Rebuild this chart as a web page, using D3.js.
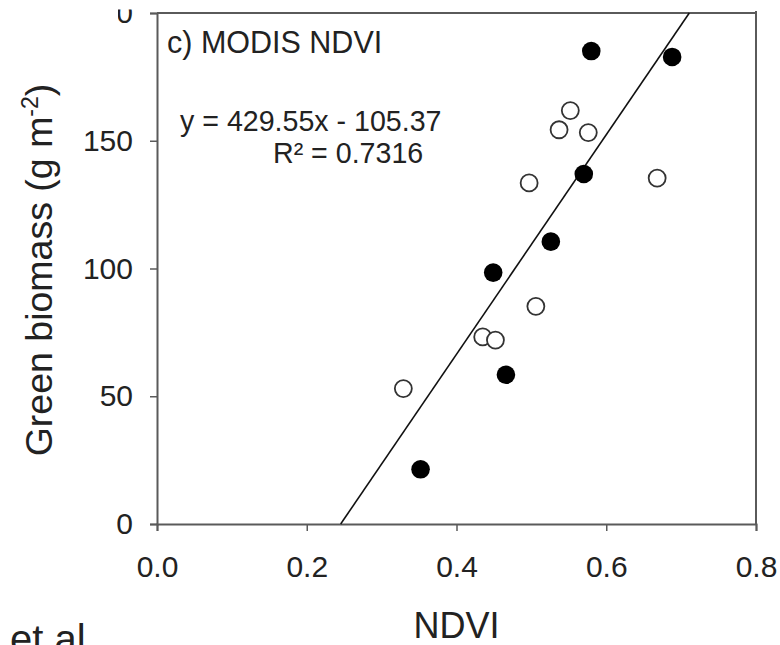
<!DOCTYPE html>
<html>
<head>
<meta charset="utf-8">
<script src="https://cdn.jsdelivr.net/npm/d3@7"></script>
<style>
  html, body { margin: 0; padding: 0; background: #fff; }
  svg { display: block; }
  text { font-family: "Liberation Sans", Arial, sans-serif; fill: #222; }
</style>
</head>
<body>
<svg id="chart" width="780" height="645"></svg>
<script>
// ---- data ----
const filledX = [0.580, 0.688, 0.570, 0.526, 0.449, 0.466, 0.352];
const filledY = [185.1, 182.8, 137.0, 110.5, 98.4, 58.4, 21.4];
const openX = [0.552, 0.537, 0.576, 0.497, 0.668, 0.506, 0.435, 0.452, 0.329];
const openY = [161.8, 154.3, 153.2, 133.5, 135.4, 85.2, 73.2, 72.0, 53.0];
const xTicks = [0.0, 0.2, 0.4, 0.6, 0.8];
const yTicks = [0, 50, 100, 150, 200];
const slope = 429.55, intercept = -105.37;
const panelLabel = "c) MODIS NDVI";
const eqLabel = "y = 429.55x - 105.37";
const r2Label = "R\u00B2 = 0.7316";

const svg = d3.select("#chart");
const x = d3.scaleLinear().domain([0, 0.8]).range([157, 756]);
const y = d3.scaleLinear().domain([0, 200]).range([524, 13]);

const axisColor = "#5a5a5a";

// frame (top and right)
svg.append("line").attr("x1", x(0)).attr("x2", x(0.8)).attr("y1", y(200)).attr("y2", y(200))
  .attr("stroke", axisColor).attr("stroke-width", 2);
svg.append("line").attr("x1", x(0.8)).attr("x2", x(0.8)).attr("y1", y(200) - 2).attr("y2", y(0))
  .attr("stroke", axisColor).attr("stroke-width", 2);

// bottom axis
const gx = svg.append("g").attr("transform", `translate(0,${y(0)})`)
  .call(d3.axisBottom(x).tickValues(xTicks).tickSize(7).tickPadding(25).tickFormat(d3.format(".1f")));
// left axis
const gy = svg.append("g").attr("transform", `translate(${x(0)},0)`)
  .call(d3.axisLeft(y).tickValues(yTicks).tickSize(7).tickPadding(17).tickFormat(d3.format("d")));

[gx, gy].forEach(g => {
  g.select(".domain").attr("stroke", axisColor).attr("stroke-width", 2);
  g.selectAll(".tick line").attr("stroke", axisColor).attr("stroke-width", 1.5);
  g.selectAll(".tick text").attr("font-size", 30).attr("fill", "#222")
    .attr("font-family", "'Liberation Sans', Arial, sans-serif");
});

// the top (200) label is cut off in the reference: keep only its lower-right part visible
gy.selectAll(".tick").filter(d => d === 200).each(function () {
  const t = d3.select(this).select("text");
  const cp = svg.append("clipPath").attr("id", "cp200");
  cp.append("rect").attr("x", 118 - x(0)).attr("y", 9 - y(200)).attr("width", 40).attr("height", 40);
  t.attr("clip-path", "url(#cp200)");
});

// regression line
const x0 = (0 - intercept) / slope, x1 = (200 - intercept) / slope;
svg.append("line")
  .attr("x1", x(x0)).attr("y1", y(slope * x0 + intercept))
  .attr("x2", x(x1)).attr("y2", y(slope * x1 + intercept))
  .attr("stroke", "#111").attr("stroke-width", 1.6);

// open points
svg.append("g").selectAll("circle").data(openX.map((v, i) => [v, openY[i]])).join("circle")
  .attr("cx", d => x(d[0])).attr("cy", d => y(d[1])).attr("r", 8.5)
  .attr("fill", "#fff").attr("stroke", "#333").attr("stroke-width", 1.8);

// filled points
svg.append("g").selectAll("circle").data(filledX.map((v, i) => [v, filledY[i]])).join("circle")
  .attr("cx", d => x(d[0])).attr("cy", d => y(d[1])).attr("r", 9.3)
  .attr("fill", "#000");

// annotations
svg.append("text").attr("x", 167).attr("y", 53).attr("font-size", 30.5).text(panelLabel);
svg.append("text").attr("x", 180).attr("y", 131).attr("font-size", 28.6).text(eqLabel);
svg.append("text").attr("x", 273).attr("y", 163).attr("font-size", 28.6).text(r2Label);

// axis titles
svg.append("text").attr("x", x(0.4)).attr("y", 638).attr("text-anchor", "middle")
  .attr("font-size", 36).text("NDVI");

const yl = svg.append("text").attr("transform", "translate(52,270) rotate(-90)")
  .attr("text-anchor", "middle").attr("font-size", 37.5);
yl.append("tspan").text("Green biomass (g m");
yl.append("tspan").attr("font-size", 23).attr("dy", -14).text("-2");
yl.append("tspan").attr("dy", 14).text(")");

// stray text at the bottom-left of the reference crop
svg.append("text").attr("x", 10).attr("y", 653).attr("font-size", 40)
  .attr("font-family", "'Noto Sans', 'Open Sans', sans-serif").attr("fill", "#111").text("et al");
</script>
</body>
</html>
